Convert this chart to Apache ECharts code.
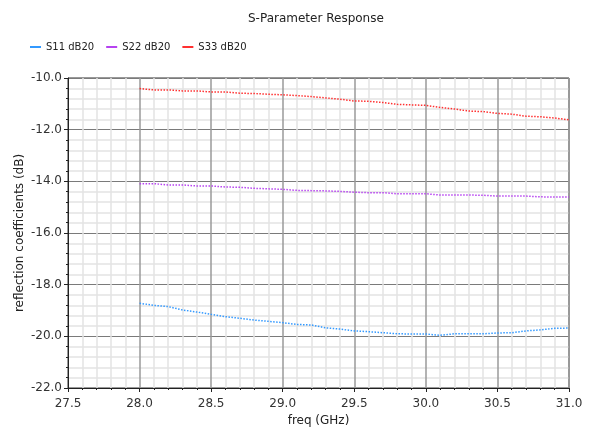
<!DOCTYPE html>
<html><head><meta charset="utf-8">
<script src="https://cdn.jsdelivr.net/npm/echarts@6/dist/echarts.min.js"></script>
<style>html,body{margin:0;padding:0;background:#fff}#c{width:591px;height:428px}</style>
</head><body><div id="c"></div>
<script>
const freq = [28.0,28.1,28.2,28.3,28.4,28.5,28.6,28.7,28.8,28.9,29.0,29.1,29.2,29.3,29.4,29.5,29.6,29.7,29.8,29.9,30.0,30.1,30.2,30.3,30.4,30.5,30.6,30.7,30.8,30.9,31.0];
const s11 = [-18.72,-18.80,-18.85,-18.98,-19.06,-19.15,-19.24,-19.30,-19.37,-19.42,-19.47,-19.54,-19.56,-19.67,-19.72,-19.79,-19.82,-19.86,-19.90,-19.91,-19.91,-19.96,-19.90,-19.90,-19.90,-19.87,-19.86,-19.79,-19.75,-19.69,-19.68];
const s22 = [-14.09,-14.09,-14.14,-14.14,-14.18,-14.18,-14.22,-14.23,-14.27,-14.29,-14.31,-14.35,-14.36,-14.37,-14.39,-14.42,-14.44,-14.44,-14.48,-14.48,-14.48,-14.53,-14.53,-14.53,-14.54,-14.57,-14.57,-14.57,-14.60,-14.61,-14.61];
const s33 = [-10.41,-10.46,-10.46,-10.50,-10.50,-10.54,-10.54,-10.59,-10.60,-10.63,-10.65,-10.68,-10.72,-10.77,-10.82,-10.89,-10.90,-10.95,-11.02,-11.04,-11.06,-11.14,-11.20,-11.28,-11.30,-11.37,-11.40,-11.48,-11.50,-11.55,-11.62];
const seriesNames = ['S11 dB20','S22 dB20','S33 dB20'];
const colors = ['#3399ff','#b642f0','#ff3030'];
const FONT = 'DejaVu Sans';
const pair = (ys) => freq.map((f,i)=>[f, ys[i]]);
const chart = echarts.init(document.getElementById('c'), null, {renderer:'canvas'});
const mk = (name, ys, color) => ({
  name, type:'line', data: pair(ys), showSymbol:false, symbol:'none',
  lineStyle:{color, width:1.5, type:'dotted'}, itemStyle:{color}, animation:false
});
chart.setOption({
  animation:false,
  textStyle:{fontFamily:FONT},
  title:{text:'S-Parameter Response', left:243, top:8,
    textStyle:{fontFamily:FONT, fontSize:12, fontWeight:'normal', color:'#222'}},
  legend:{left:30, top:42, padding:0, icon:'rect', itemWidth:11, itemHeight:2, itemGap:12,
    textStyle:{fontFamily:FONT, fontSize:10, color:'#222'},
    data: seriesNames},
  grid:{left:68, right:22, top:78, bottom:40, containLabel:false, outerBoundsMode:'none',
    show:true, borderColor:'#333', borderWidth:1, backgroundColor:'#fff'},
  xAxis:{type:'value', min:27.5, max:31.0, interval:0.5,
    name:'freq (GHz)', nameLocation:'middle', nameGap:27, nameMoveOverlap:false,
    nameTextStyle:{fontFamily:FONT, fontSize:12, color:'#222'},
    axisLine:{show:true, onZero:false, lineStyle:{color:'#222'}},
    axisTick:{show:true, length:4, lineStyle:{color:'#222'}},
    minorTick:{show:true, splitNumber:5, length:2, lineStyle:{color:'#222'}},
    axisLabel:{fontFamily:FONT, fontSize:12, color:'#333', formatter:v=>v.toFixed(1), margin:10},
    splitLine:{show:true, lineStyle:{color:'#9a9a9a', width:1.5}},
    minorSplitLine:{show:true, lineStyle:{color:'#e4e4e4', width:1.5}}},
  yAxis:{type:'value', min:-22, max:-10, interval:2,
    name:'reflection coefficients (dB)', nameLocation:'middle', nameGap:42, nameMoveOverlap:false,
    nameTextStyle:{fontFamily:FONT, fontSize:12, color:'#222'},
    axisLine:{show:true, onZero:false, lineStyle:{color:'#222'}},
    axisTick:{show:true, length:4, lineStyle:{color:'#222'}},
    minorTick:{show:true, splitNumber:5, length:2, lineStyle:{color:'#222'}},
    axisLabel:{fontFamily:FONT, fontSize:12, color:'#333', formatter:v=>v.toFixed(1), margin:6},
    splitLine:{show:true, lineStyle:{color:'#7a7a7a', width:1}},
    minorSplitLine:{show:true, lineStyle:{color:'#e4e4e4', width:1.5}}},
  series:[mk(seriesNames[0], s11, colors[0]), mk(seriesNames[1], s22, colors[1]), mk(seriesNames[2], s33, colors[2])]
});
</script></body></html>
